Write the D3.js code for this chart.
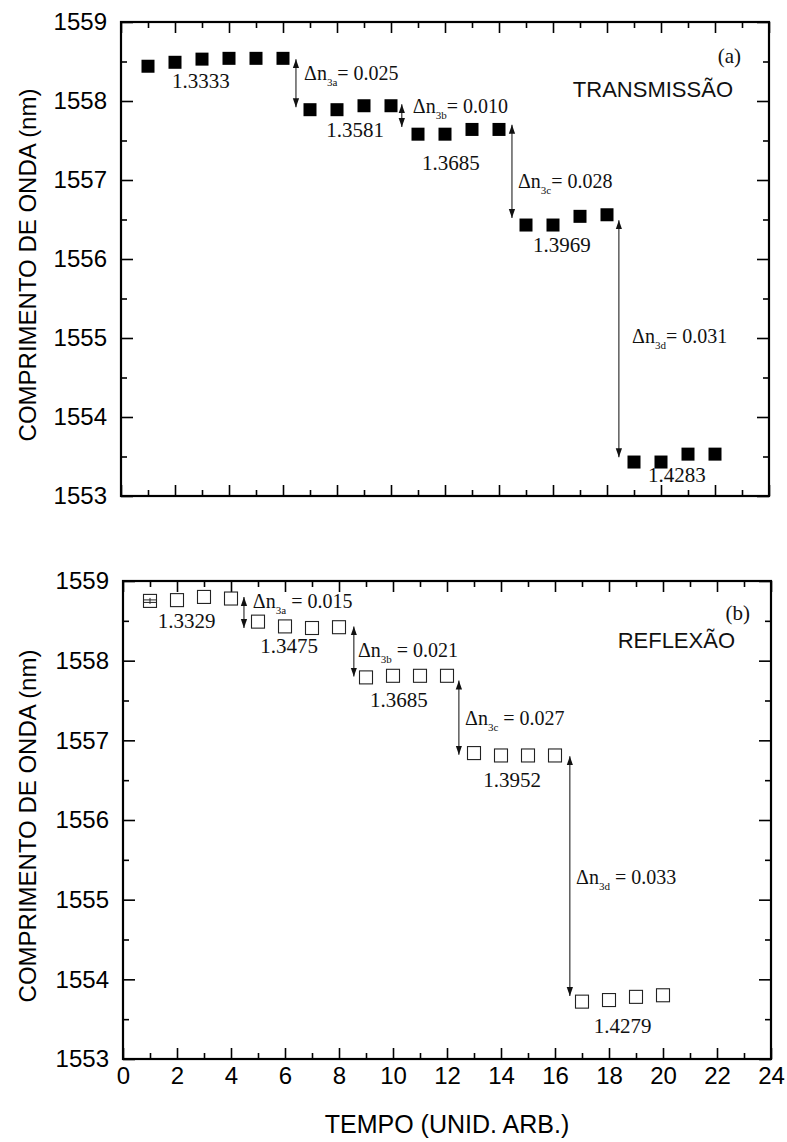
<!DOCTYPE html>
<html><head><meta charset="utf-8">
<script src="https://cdn.jsdelivr.net/npm/d3@7"></script>
<style>body{margin:0;background:#fff}svg{display:block}</style>
</head><body>
<script>
// ---- data ----
const tTrans = [1,2,3,4,5,6,7,8,9,10,11,12,13,14,15,16,17,18,19,20,21,22];
const wTrans = [1558.44,1558.49,1558.53,1558.54,1558.54,1558.54,1557.89,1557.89,1557.94,1557.94,1557.58,1557.58,1557.64,1557.64,1556.43,1556.43,1556.54,1556.56,1553.43,1553.43,1553.53,1553.53];
const tRefl = [1,2,3,4,5,6,7,8,9,10,11,12,13,14,15,16,17,18,19,20];
const wRefl = [1558.75,1558.76,1558.80,1558.78,1558.49,1558.43,1558.41,1558.42,1557.79,1557.81,1557.81,1557.81,1556.84,1556.81,1556.81,1556.81,1553.72,1553.74,1553.78,1553.80];
const xTicks = [0,2,4,6,8,10,12,14,16,18,20,22,24];
const yTicks = [1553,1554,1555,1556,1557,1558,1559];
// index labels (value, x, y in data units)
const idxTransText = ["1.3333","1.3581","1.3685","1.3969","1.4283"];
const idxTransX = [2.96,8.67,12.22,16.33,20.59];
const idxTransY = [1558.16,1557.54,1557.13,1556.09,1553.18];
const idxReflText = ["1.3329","1.3475","1.3685","1.3952","1.4279"];
const idxReflX = [2.36,6.15,10.22,14.41,18.5];
const idxReflY = [1558.41,1558.10,1557.42,1556.42,1553.33];
// delta-n annotations
const dTransSub = ["3a","3b","3c","3d"];
const dTransVal = ["0.025","0.010","0.028","0.031"];
const dTransX = [6.78,10.81,14.70,18.93];
const dTransY = [1558.27,1557.85,1556.90,1554.94];
const dReflSub = ["3a","3b","3c","3d"];
const dReflVal = ["0.015","0.021","0.027","0.033"];
const dReflX = [4.81,8.70,12.67,16.78];
const dReflY = [1558.66,1558.05,1557.19,1555.20];
// arrows (x, from, to)
const arTransX = [6.48,10.40,14.48,18.44];
const arTransY1 = [1558.53,1557.96,1557.70,1556.49];
const arTransY2 = [1557.92,1557.67,1556.52,1553.49];
const arReflX = [4.48,8.55,12.44,16.55];
const arReflY1 = [1558.80,1558.43,1557.75,1556.80];
const arReflY2 = [1558.41,1557.80,1556.82,1553.79];

const W = 787, H = 1142;
const svg = d3.select("body").append("svg").attr("width", W).attr("height", H);
const defs = svg.append("defs");
defs.append("marker").attr("id","ah").attr("viewBox","0 0 10 10").attr("refX",10).attr("refY",5)
  .attr("markerWidth",9).attr("markerHeight",9).attr("markerUnits","userSpaceOnUse")
  .attr("orient","auto").append("path").attr("d","M0,1.5 L10,5 L0,8.5 Z").attr("fill","#111");
defs.append("marker").attr("id","ahs").attr("viewBox","0 0 10 10").attr("refX",0).attr("refY",5)
  .attr("markerWidth",9).attr("markerHeight",9).attr("markerUnits","userSpaceOnUse")
  .attr("orient","auto").append("path").attr("d","M10,1.5 L0,5 L10,8.5 Z").attr("fill","#111");

const sans = "'Liberation Sans', Arial, sans-serif";
const serif = "'Liberation Serif', 'Times New Roman', serif";

function panel(cfg){
  const x = d3.scaleLinear().domain([0,24]).range([cfg.l, cfg.r]);
  const y = d3.scaleLinear().domain([1553,1559]).range([cfg.b, cfg.t]);
  const g = svg.append("g");
  const minorX = d3.range(1,24,2);
  const minorY = d3.range(1553.5,1559,1);
  function styleAxis(sel){
    sel.select(".domain").remove();
    sel.selectAll(".tick line").attr("stroke","#000").attr("stroke-width",1.6);
  }
  // bottom
  const bx = g.append("g").attr("transform",`translate(0,${cfg.b})`)
    .call(d3.axisBottom(x).tickValues(xTicks).tickSize(-11).tickPadding(cfg.xLabels?8:0)
      .tickFormat(cfg.xLabels ? d3.format("d") : ""));
  styleAxis(bx);
  bx.selectAll("text").attr("font-family",sans).attr("font-size",24).attr("fill","#000");
  styleAxis(g.append("g").attr("transform",`translate(0,${cfg.b})`).call(d3.axisBottom(x).tickValues(minorX).tickSize(-6).tickFormat("")));
  // top
  styleAxis(g.append("g").attr("transform",`translate(0,${cfg.t})`).call(d3.axisTop(x).tickValues(xTicks).tickSize(-11).tickFormat("")));
  styleAxis(g.append("g").attr("transform",`translate(0,${cfg.t})`).call(d3.axisTop(x).tickValues(minorX).tickSize(-6).tickFormat("")));
  // left
  const ly = g.append("g").attr("transform",`translate(${cfg.l},0)`)
    .call(d3.axisLeft(y).tickValues(yTicks).tickSize(-12).tickPadding(14).tickFormat(d3.format("d")));
  styleAxis(ly);
  ly.selectAll("text").attr("font-family",sans).attr("font-size",24).attr("fill","#000");
  styleAxis(g.append("g").attr("transform",`translate(${cfg.l},0)`).call(d3.axisLeft(y).tickValues(minorY).tickSize(-6).tickFormat("")));
  // right
  styleAxis(g.append("g").attr("transform",`translate(${cfg.r},0)`).call(d3.axisRight(y).tickValues(yTicks).tickSize(-12).tickFormat("")));
  styleAxis(g.append("g").attr("transform",`translate(${cfg.r},0)`).call(d3.axisRight(y).tickValues(minorY).tickSize(-6).tickFormat("")));
  // frame
  g.append("rect").attr("x",cfg.l).attr("y",cfg.t).attr("width",cfg.r-cfg.l).attr("height",cfg.b-cfg.t)
    .attr("fill","none").attr("stroke","#000").attr("stroke-width",2.2);
  // y title
  g.append("text").attr("transform",`translate(36,${(cfg.t+cfg.b)/2+6}) rotate(-90)`)
    .attr("text-anchor","middle").attr("font-family",sans).attr("font-size",24).attr("fill","#000")
    .text("COMPRIMENTO DE ONDA (nm)");
  // points
  const s = 13;
  const pts = g.append("g");
  cfg.tx.forEach((tv,i)=>{
    const cx = x(tv), cy = y(cfg.wy[i]);
    if (cfg.filled){
      pts.append("rect").attr("x",cx-s/2).attr("y",cy-s/2).attr("width",s).attr("height",s).attr("fill","#000");
    } else {
      pts.append("rect").attr("x",cx-6.5).attr("y",cy-6.5).attr("width",13).attr("height",13)
        .attr("fill","#fff").attr("stroke","#222").attr("stroke-width",1.1);
      if (i===0){
        pts.append("line").attr("x1",cx).attr("x2",cx).attr("y1",cy-3).attr("y2",cy+3).attr("stroke","#222").attr("stroke-width",1);
        pts.append("line").attr("x1",cx-6.5).attr("x2",cx+6.5).attr("y1",cy-1).attr("y2",cy-1).attr("stroke","#222").attr("stroke-width",1);
        pts.append("line").attr("x1",cx-6.5).attr("x2",cx+6.5).attr("y1",cy+1.5).attr("y2",cy+1.5).attr("stroke","#222").attr("stroke-width",1);
      }
    }
  });
  // arrows
  cfg.ax.forEach((av,i)=>{
    g.append("line").attr("x1",x(av)).attr("x2",x(av)).attr("y1",y(cfg.ay1[i])).attr("y2",y(cfg.ay2[i]))
      .attr("stroke","#222").attr("stroke-width",1.1)
      .attr("marker-start","url(#ahs)").attr("marker-end","url(#ah)");
  });
  // index labels
  cfg.it.forEach((t,i)=>{
    g.append("text").attr("x",x(cfg.ix[i])).attr("y",y(cfg.iy[i])).attr("text-anchor","middle")
      .attr("font-family",serif).attr("font-size",21).attr("fill","#111").text(t);
  });
  // delta labels
  cfg.ds.forEach((sub,i)=>{
    const t = g.append("text").attr("x",x(cfg.dx[i])).attr("y",y(cfg.dy[i]))
      .attr("font-family",serif).attr("font-size",20).attr("fill","#111");
    t.append("tspan").text("\u0394n");
    t.append("tspan").attr("font-size",11).attr("dy",6).text(sub);
    t.append("tspan").attr("dy",-6).text((cfg.space?" = ":"= ")+cfg.dv[i]);
  });
  // panel label
  g.append("text").attr("x",cfg.r-cfg.labDx).attr("y",cfg.t+cfg.labDy).attr("text-anchor","end")
    .attr("font-family",serif).attr("font-size",21).attr("fill","#111").text(cfg.lab);
  g.append("text").attr("x",cfg.r-cfg.nameDx).attr("y",cfg.t+cfg.nameDy).attr("text-anchor","end")
    .attr("font-family",sans).attr("font-size",22).attr("fill","#111").text(cfg.name);
  return {x,y};
}

panel({l:121,r:769,t:22,b:496,filled:true,xLabels:false,tx:tTrans,wy:wTrans,
  ax:arTransX,ay1:arTransY1,ay2:arTransY2,it:idxTransText,ix:idxTransX,iy:idxTransY,
  ds:dTransSub,dv:dTransVal,dx:dTransX,dy:dTransY,space:false,
  lab:"(a)",labDx:28,labDy:41,name:"TRANSMISSÃO",nameDx:36,nameDy:75});
panel({l:123,r:771,t:581,b:1059,filled:false,xLabels:true,tx:tRefl,wy:wRefl,
  ax:arReflX,ay1:arReflY1,ay2:arReflY2,it:idxReflText,ix:idxReflX,iy:idxReflY,
  ds:dReflSub,dv:dReflVal,dx:dReflX,dy:dReflY,space:true,
  lab:"(b)",labDx:21,labDy:39,name:"REFLEXÃO",nameDx:36,nameDy:67});

svg.append("text").attr("x",447).attr("y",1133).attr("text-anchor","middle")
  .attr("font-family",sans).attr("font-size",25).attr("fill","#000").text("TEMPO (UNID. ARB.)");
</script>
</body></html>
